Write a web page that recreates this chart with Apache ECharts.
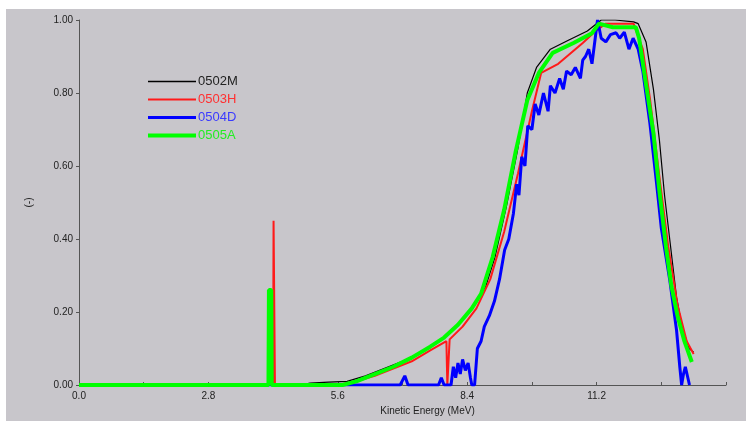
<!DOCTYPE html>
<html>
<head>
<meta charset="utf-8">
<script src="https://cdn.jsdelivr.net/npm/echarts@6/dist/echarts.min.js"></script>
<style>
html,body{margin:0;padding:0;background:#ffffff;}
#chart{position:absolute;left:6px;top:9px;width:740px;height:412px;}
</style>
</head>
<body>
<div id="chart"></div>
<script>
// ---- data ----
var seriesNames = ['0502M', '0503H', '0504D', '0505A'];
var xTicks = [0, 1.4, 2.8, 4.2, 5.6, 7.0, 8.4, 9.8, 11.2, 12.6, 14.0];
var yTicks = [0, 0.2, 0.4, 0.6, 0.8, 1.0];

var e0502M = [0, 4.8, 5.0, 5.4, 5.8, 6.2, 6.6, 7.0, 7.4, 7.8, 8.2, 8.5, 8.8, 9.0, 9.25, 9.5, 9.7, 9.9, 10.2, 10.6, 11.0, 11.3, 11.6, 12.0, 12.1, 12.27, 12.43, 12.56, 12.67, 12.8, 12.93, 13.05, 13.2, 13.3];
var v0502M = [0, 0, 0.005, 0.008, 0.01, 0.025, 0.045, 0.065, 0.09, 0.12, 0.165, 0.21, 0.27, 0.35, 0.49, 0.65, 0.8, 0.87, 0.92, 0.945, 0.97, 1.0, 1.0, 0.995, 0.99, 0.94, 0.81, 0.67, 0.52, 0.38, 0.24, 0.16, 0.10, 0.09];

var e0503H = [0, 4.2, 4.21, 4.23, 4.24, 5.6, 6.0, 6.4, 6.8, 7.2, 7.6, 7.95, 7.97, 8.0, 8.02, 8.3, 8.6, 8.9, 9.2, 9.5, 9.8, 10.0, 10.37, 10.9, 11.18, 11.4, 12.0, 12.2, 12.36, 12.55, 12.75, 12.95, 13.15, 13.3];
var v0503H = [0, 0, 0.45, 0.45, 0, 0, 0.01, 0.025, 0.045, 0.065, 0.095, 0.12, 0, 0, 0.125, 0.16, 0.21, 0.29, 0.42, 0.58, 0.75, 0.855, 0.88, 0.937, 0.97, 0.99, 0.99, 0.92, 0.78, 0.58, 0.38, 0.22, 0.12, 0.085];

var e0504D = [0, 6.95, 7.05, 7.12, 7.2, 7.78, 7.84, 7.9, 8.05, 8.1, 8.15, 8.2, 8.25, 8.3, 8.36, 8.42, 8.47, 8.5, 8.56, 8.62, 8.7, 8.77, 8.88, 8.99, 9.1, 9.21, 9.3, 9.4, 9.47, 9.52, 9.58, 9.65, 9.71, 9.8, 9.87, 9.95, 10.05, 10.15, 10.2, 10.3, 10.4, 10.48, 10.55, 10.65, 10.74, 10.85, 10.9, 10.96, 11.03, 11.1, 11.15, 11.22, 11.3, 11.4, 11.5, 11.62, 11.7, 11.8, 11.9, 11.99, 12.1, 12.2, 12.35, 12.5, 12.6, 12.78, 12.93, 13.0, 13.04, 13.08, 13.12, 13.16, 13.21];
var v0504D = [0, 0, 0.025, 0, 0, 0, 0.02, 0, 0, 0.05, 0.02, 0.06, 0.03, 0.07, 0.04, 0.06, 0.02, 0, 0.0, 0.1, 0.12, 0.16, 0.19, 0.23, 0.29, 0.37, 0.40, 0.47, 0.55, 0.52, 0.625, 0.6, 0.71, 0.70, 0.77, 0.74, 0.80, 0.75, 0.82, 0.80, 0.84, 0.81, 0.86, 0.85, 0.87, 0.84, 0.89, 0.90, 0.92, 0.88, 0.93, 1.0, 0.95, 0.94, 0.96, 0.965, 0.95, 0.967, 0.92, 0.95, 0.92, 0.86, 0.72, 0.55, 0.43, 0.29, 0.15, 0.05, 0.0, 0.03, 0.05, 0.05, 0.0];

var e0505A = [0, 4.1, 4.11, 4.16, 4.17, 5.7, 6.0, 6.4, 6.8, 7.2, 7.6, 7.9, 8.2, 8.5, 8.7, 8.95, 9.2, 9.45, 9.7, 9.95, 10.25, 10.7, 11.1, 11.25, 11.55, 12.05, 12.12, 12.25, 12.43, 12.56, 12.7, 12.82, 12.95, 13.1, 13.26];
var v0505A = [0, 0, 0.26, 0.26, 0, 0, 0.01, 0.03, 0.05, 0.075, 0.105, 0.13, 0.165, 0.21, 0.25, 0.35, 0.48, 0.64, 0.78, 0.855, 0.91, 0.937, 0.964, 0.99, 0.98, 0.98, 0.95, 0.84, 0.69, 0.53, 0.38, 0.27, 0.19, 0.12, 0.063];

// ---- build ----
function pairs(e, v) { return e.map(function (x, i) { return [x, v[i]]; }); }
var colors = ['#000000', '#ff1a1a', '#0000ff', '#00ff00'];
var textColors = ['#222222', '#ff3030', '#3a3aff', '#22ee22'];
var widths = [1.2, 2, 3, 4];
var dataSets = [pairs(e0502M, v0502M), pairs(e0503H, v0503H), pairs(e0504D, v0504D), pairs(e0505A, v0505A)];

var chart = echarts.init(document.getElementById('chart'), null, {renderer: 'canvas'});
var option = {
  backgroundColor: '#c8c6cb',
  animation: false,
  textStyle: {fontFamily: 'Liberation Sans, Arial, sans-serif'},
  grid: {left: 73, right: 20, top: 11, bottom: 36},
  legend: {
    orient: 'vertical',
    left: 137,
    top: 61,
    itemGap: 5,
    itemWidth: 48,
    itemHeight: 14,
    symbolKeepAspect: true,
    itemStyle: {borderWidth: 0},
    textStyle: {fontSize: 13, padding: [0, 0, 0, -3]},
    data: seriesNames.map(function (n, i) {
      var h = [1.5, 2, 3, 4][i];
      return {name: n, icon: 'path://M0,0H48V' + h + 'H0Z', itemStyle: {borderWidth: 0}, textStyle: {color: textColors[i]}};
    })
  },
  xAxis: {
    type: 'value', min: xTicks[0], max: xTicks[xTicks.length - 1], interval: 1.4,
    name: 'Kinetic Energy (MeV)', nameLocation: 'middle', nameGap: 20,
    nameTextStyle: {fontSize: 10, color: '#222', padding: [0, 0, 0, 50]},
    axisLine: {lineStyle: {color: '#555', width: 1}},
    axisTick: {inside: true, length: 3, lineStyle: {color: '#555'}},
    axisLabel: {
      fontSize: 10, color: '#222', margin: 6,
      formatter: function (v) {
        var k = Math.round(v / 1.4);
        return (k % 2 === 0 && v < 13.9) ? v.toFixed(1) : '';
      }
    },
    splitLine: {show: false}
  },
  yAxis: {
    type: 'value', min: yTicks[0], max: yTicks[yTicks.length - 1], interval: 0.2,
    name: '(-)', nameLocation: 'middle', nameGap: 45, nameRotate: 90,
    nameTextStyle: {fontSize: 10, color: '#222'},
    axisLine: {show: true, lineStyle: {color: '#555', width: 1}},
    axisTick: {show: true, length: 3, lineStyle: {color: '#555'}},
    axisLabel: {fontSize: 10, color: '#222', margin: 6, formatter: function (v) { return v.toFixed(2); }},
    splitLine: {show: false}
  },
  series: seriesNames.map(function (n, i) {
    return {
      name: n, type: 'line', data: dataSets[i], showSymbol: false, symbol: 'none',
      lineStyle: {color: colors[i], width: widths[i]}, itemStyle: {color: colors[i]},
      z: 2 + i, silent: true
    };
  })
};
chart.setOption(option);
</script>
</body>
</html>
